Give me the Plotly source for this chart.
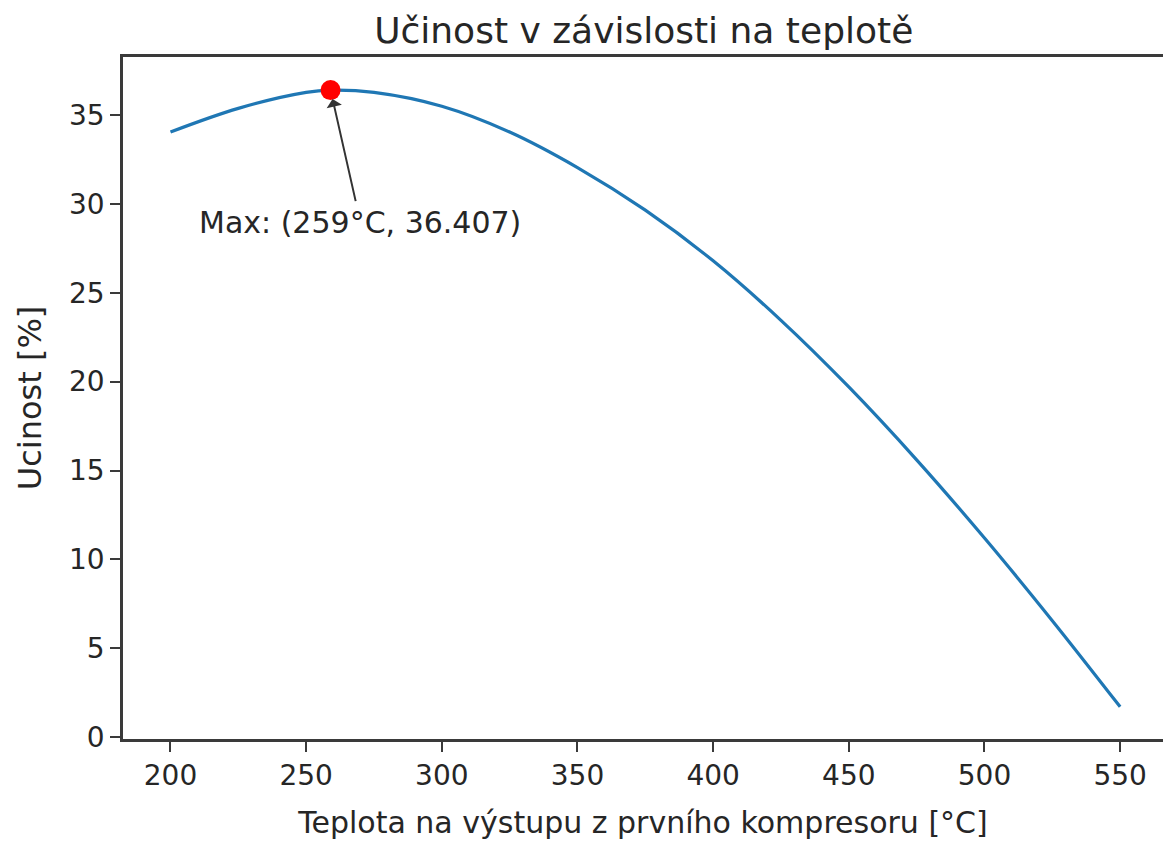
import plotly.graph_objects as go

# Data
teplota = [200, 225, 250, 259, 275, 300, 325, 350, 375, 400, 425, 450, 475, 500, 525, 550]
ucinost = [34.05, 35.38, 36.28, 36.407, 36.28, 35.5, 34.05, 32.05, 29.65, 26.8, 23.45, 19.7,
           15.6, 11.2, 6.55, 1.7]
max_x = [259]
max_y = [36.407]
label_pos = [270.0, 28.98]
x_ticks = [200, 250, 300, 350, 400, 450, 500, 550]
y_ticks = [0, 5, 10, 15, 20, 25, 30, 35]

title_text = "Učinost v závislosti na teplotě"
x_title = "Teplota na výstupu z prvního kompresoru [°C]"
y_title = "Ucinost [%]"
max_label = f"Max: ({max_x[0]}°C, {max_y[0]})"

FONT = "DejaVu Sans"
TXT = "#262626"
AX = "#3a3a3a"

fig = go.Figure()
fig.add_trace(go.Scatter(x=teplota, y=ucinost, mode="lines",
                         line=dict(color="#1f77b4", width=3.2, shape="spline", smoothing=1.0),
                         showlegend=False, hoverinfo="skip"))
fig.add_trace(go.Scatter(x=max_x, y=max_y, mode="markers",
                         marker=dict(color="#ff0000", size=20, line=dict(width=0)),
                         showlegend=False))

fig.add_annotation(x=max_x[0], y=max_y[0], xref="x", yref="y",
                   ax=label_pos[0], ay=label_pos[1], axref="x", ayref="y",
                   text=max_label, showarrow=True, arrowhead=1, arrowsize=1.3,
                   arrowwidth=2, arrowcolor="#333333", standoff=9, startstandoff=2,
                   font=dict(family=FONT, size=30, color=TXT))

fig.update_layout(
    width=1163, height=843,
    margin=dict(l=123, r=0, t=57, b=104, autoexpand=False),
    paper_bgcolor="white", plot_bgcolor="white",
    title=dict(text=title_text, x=0.5535, xanchor="center", y=0.964, yanchor="middle",
               font=dict(family=FONT, size=36, color=TXT)),
    font=dict(family=FONT, color=TXT),
)
fig.update_xaxes(range=[182.5, 565.8], tickvals=x_ticks, showgrid=False, zeroline=False,
                 showline=True, linecolor=AX, linewidth=2.5, mirror=True,
                 ticks="outside", ticklen=10, tickwidth=2, tickcolor=AX,
                 tickfont=dict(family=FONT, size=28, color=TXT),
                 title=dict(text=x_title, font=dict(family=FONT, size=30, color=TXT), standoff=21))
fig.update_yaxes(range=[-0.11, 38.27], tickvals=y_ticks, showgrid=False, zeroline=False,
                 showline=True, linecolor=AX, linewidth=2.5,
                 ticks="outside", ticklen=10, tickwidth=2, tickcolor=AX,
                 tickfont=dict(family=FONT, size=28, color=TXT),
                 title=dict(text=y_title, font=dict(family=FONT, size=32, color=TXT), standoff=18))

fig.write_html("out.html", config={"displayModeBar": False},
               post_script="document.body.style.margin='0';document.body.style.overflow='hidden';")
